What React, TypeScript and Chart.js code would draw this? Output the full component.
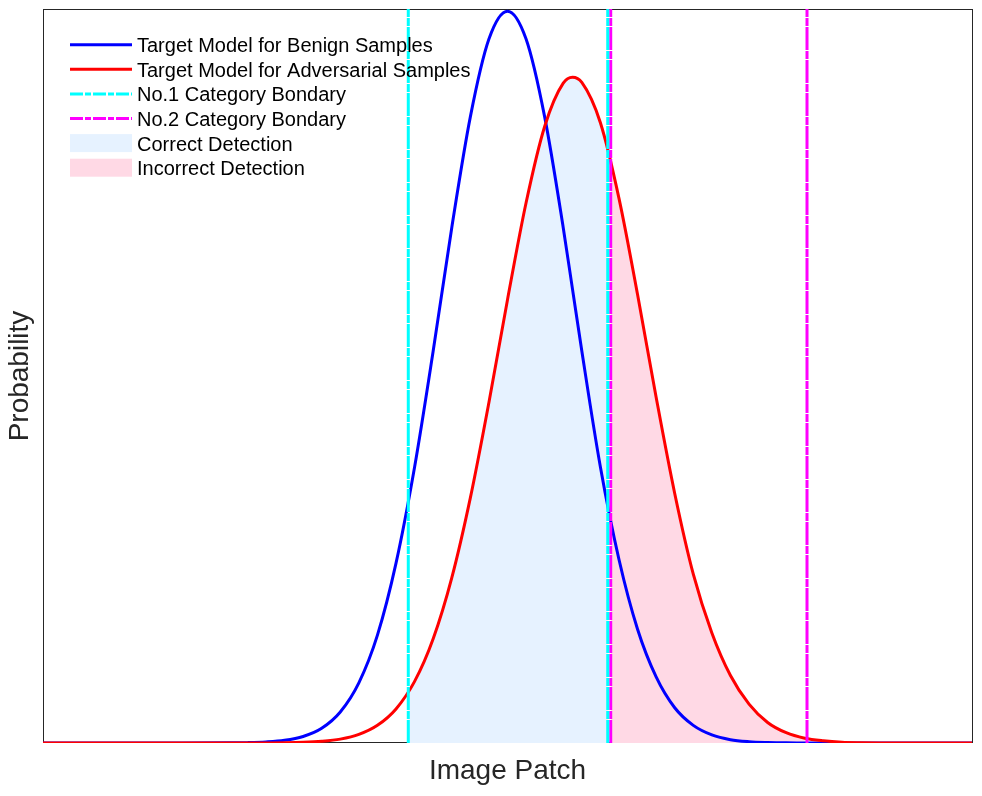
import React, { useEffect, useRef } from "react";
import { Chart, registerables } from "chart.js";

Chart.register(...registerables);

// Sampled positions along the "Image Patch" axis (0..100)
const X = [0, 5, 10, 15, 20, 22, 24, 26, 28, 30, 32, 34, 36, 38, 40, 42, 44, 46, 48, 50, 52, 54, 56, 57, 58, 60, 62, 64, 66, 68, 70, 72, 74, 76, 78, 80, 82, 84, 86, 88, 90, 95, 100];

// Target model probability for benign samples
const BENIGN = [0, 0, 0, 0, 0.0002, 0.0005, 0.0014, 0.0036, 0.0089, 0.0201, 0.0423, 0.082, 0.147, 0.245, 0.376, 0.534, 0.702, 0.853, 0.959, 0.997, 0.959, 0.853, 0.702, 0.618, 0.534, 0.376, 0.25, 0.155, 0.09, 0.048, 0.024, 0.011, 0.0045, 0.0018, 0.0007, 0.0002, 0.0001, 0, 0, 0, 0, 0, 0];

// Target model probability for adversarial samples
const ADVERSARIAL = [0, 0, 0, 0, 0, 0, 0.0001, 0.0003, 0.0009, 0.0023, 0.0053, 0.0117, 0.0241, 0.0464, 0.0839, 0.142, 0.225, 0.334, 0.464, 0.604, 0.736, 0.84, 0.899, 0.907, 0.9, 0.845, 0.742, 0.611, 0.471, 0.34, 0.23, 0.15, 0.092, 0.053, 0.028, 0.014, 0.0065, 0.003, 0.0011, 0.0004, 0.0001, 0, 0];

// Category boundaries
const CAT1_BOUNDS = [39.32, 60.79];
const CAT2_BOUNDS = [61.11, 82.24];

const LEGEND_LABELS = [
  "Target Model for Benign Samples",
  "Target Model for Adversarial Samples",
  "No.1 Category Bondary",
  "No.2 Category Bondary",
  "Correct Detection",
  "Incorrect Detection",
];

const X_TITLE = "Image Patch";
const Y_TITLE = "Probability";

const BLUE = "#0000ff";
const RED = "#ff0000";
const CYAN = "#00ffff";
const MAGENTA = "#ff00ff";
const FILL_CORRECT = "rgb(230,242,255)";
const FILL_INCORRECT = "rgb(255,217,229)";
const AXIS_COLOR = "#262626";

function interp(xs: number[], ys: number[], x: number): number {
  for (let i = 0; i < xs.length - 1; i++) {
    if (x >= xs[i] && x <= xs[i + 1]) {
      const t = (x - xs[i]) / (xs[i + 1] - xs[i]);
      return ys[i] + t * (ys[i + 1] - ys[i]);
    }
  }
  return 0;
}

function toPoints(xs: number[], ys: number[]) {
  return xs.map((x, i) => ({ x, y: ys[i] }));
}

function segment(xs: number[], ys: number[], lo: number, hi: number) {
  const pts = [{ x: lo, y: interp(xs, ys, lo) }];
  xs.forEach((x, i) => {
    if (x > lo && x < hi) pts.push({ x, y: ys[i] });
  });
  pts.push({ x: hi, y: interp(xs, ys, hi) });
  return pts;
}

const PLOT_DASH = [23, 1, 8, 1];

const decorPlugin = {
  id: "decor",
  beforeDatasetsDraw(chart: any) {
    const { ctx, chartArea } = chart;
    ctx.save();
    ctx.strokeStyle = AXIS_COLOR;
    ctx.lineWidth = 1;
    ctx.strokeRect(
      Math.round(chartArea.left) + 0.5,
      Math.round(chartArea.top) + 0.5,
      Math.round(chartArea.right - chartArea.left),
      Math.round(chartArea.bottom - chartArea.top) - 1
    );
    ctx.restore();
  },
  afterDraw(chart: any) {
    const { ctx, chartArea } = chart;
    ctx.save();
    // axis titles
    ctx.fillStyle = AXIS_COLOR;
    ctx.font = '28px "Liberation Sans", Arial, sans-serif';
    ctx.textAlign = "center";
    ctx.textBaseline = "alphabetic";
    ctx.fillText(X_TITLE, (chartArea.left + chartArea.right) / 2, 779);
    ctx.save();
    ctx.translate(28, (chartArea.top + chartArea.bottom) / 2);
    ctx.rotate(-Math.PI / 2);
    ctx.fillText(Y_TITLE, 0, 0);
    ctx.restore();

    // legend
    const x0 = 70;
    const x1 = 132;
    const tx = 137;
    const rowY0 = 44.7;
    const rowH = 24.6;
    ctx.font = '20px "Liberation Sans", Arial, sans-serif';
    ctx.textAlign = "left";
    LEGEND_LABELS.forEach((label, i) => {
      const y = rowY0 + i * rowH;
      if (i < 4) {
        ctx.beginPath();
        ctx.lineWidth = 3;
        ctx.strokeStyle = [BLUE, RED, CYAN, MAGENTA][i];
        ctx.setLineDash(i < 2 ? [] : [13, 2, 6, 2]);
        ctx.moveTo(x0, y);
        ctx.lineTo(x1, y);
        ctx.stroke();
        ctx.setLineDash([]);
      } else {
        ctx.fillStyle = i === 4 ? FILL_CORRECT : FILL_INCORRECT;
        ctx.fillRect(x0, y - 9, x1 - x0, 18);
      }
      ctx.fillStyle = "#000000";
      ctx.fillText(label, tx, y + 7.5);
    });
    ctx.restore();
  },
};

export default function App() {
  const canvasRef = useRef<HTMLCanvasElement | null>(null);

  useEffect(() => {
    const canvas = canvasRef.current;
    if (!canvas) return;

    const vline = (x: number, color: string) => ({
      data: [
        { x, y: 0 },
        { x, y: 1 },
      ],
      borderColor: color,
      borderWidth: 3,
      borderDash: PLOT_DASH,
      pointRadius: 0,
      fill: false,
      tension: 0,
      order: 0,
    });

    const chart = new Chart(canvas, {
      type: "line",
      data: {
        datasets: [
          ...CAT1_BOUNDS.map((b) => vline(b, CYAN)),
          ...CAT2_BOUNDS.map((b) => vline(b, MAGENTA)),
          {
            data: toPoints(X, ADVERSARIAL),
            borderColor: RED,
            borderWidth: 3,
            pointRadius: 0,
            fill: false,
            cubicInterpolationMode: "monotone",
            order: 1,
          },
          {
            data: toPoints(X, BENIGN),
            borderColor: BLUE,
            borderWidth: 3,
            pointRadius: 0,
            fill: false,
            cubicInterpolationMode: "monotone",
            order: 2,
          },
          {
            data: segment(X, ADVERSARIAL, CAT1_BOUNDS[0], CAT1_BOUNDS[1]),
            borderWidth: 0,
            borderColor: "rgba(0,0,0,0)",
            backgroundColor: FILL_CORRECT,
            pointRadius: 0,
            fill: "origin",
            cubicInterpolationMode: "monotone",
            order: 3,
          },
          {
            data: segment(X, ADVERSARIAL, CAT2_BOUNDS[0], CAT2_BOUNDS[1]),
            borderWidth: 0,
            borderColor: "rgba(0,0,0,0)",
            backgroundColor: FILL_INCORRECT,
            pointRadius: 0,
            fill: "origin",
            cubicInterpolationMode: "monotone",
            order: 3,
          },
        ] as any,
      },
      options: {
        animation: false,
        responsive: false,
        devicePixelRatio: 1,
        layout: { padding: { left: 43, top: 9, right: 10, bottom: 53 } },
        scales: {
          x: { type: "linear", min: 0, max: 100, display: false },
          y: { type: "linear", min: 0, max: 1, display: false },
        },
        plugins: {
          legend: { display: false },
          tooltip: { enabled: false },
        },
        events: [],
      } as any,
      plugins: [decorPlugin],
    });

    return () => chart.destroy();
  }, []);

  return (
    <div style={{ position: "absolute", left: 0, top: 0, width: 982, height: 796, background: "#ffffff" }}>
      <canvas ref={canvasRef} width={982} height={796} style={{ width: 982, height: 796, display: "block" }} />
    </div>
  );
}
